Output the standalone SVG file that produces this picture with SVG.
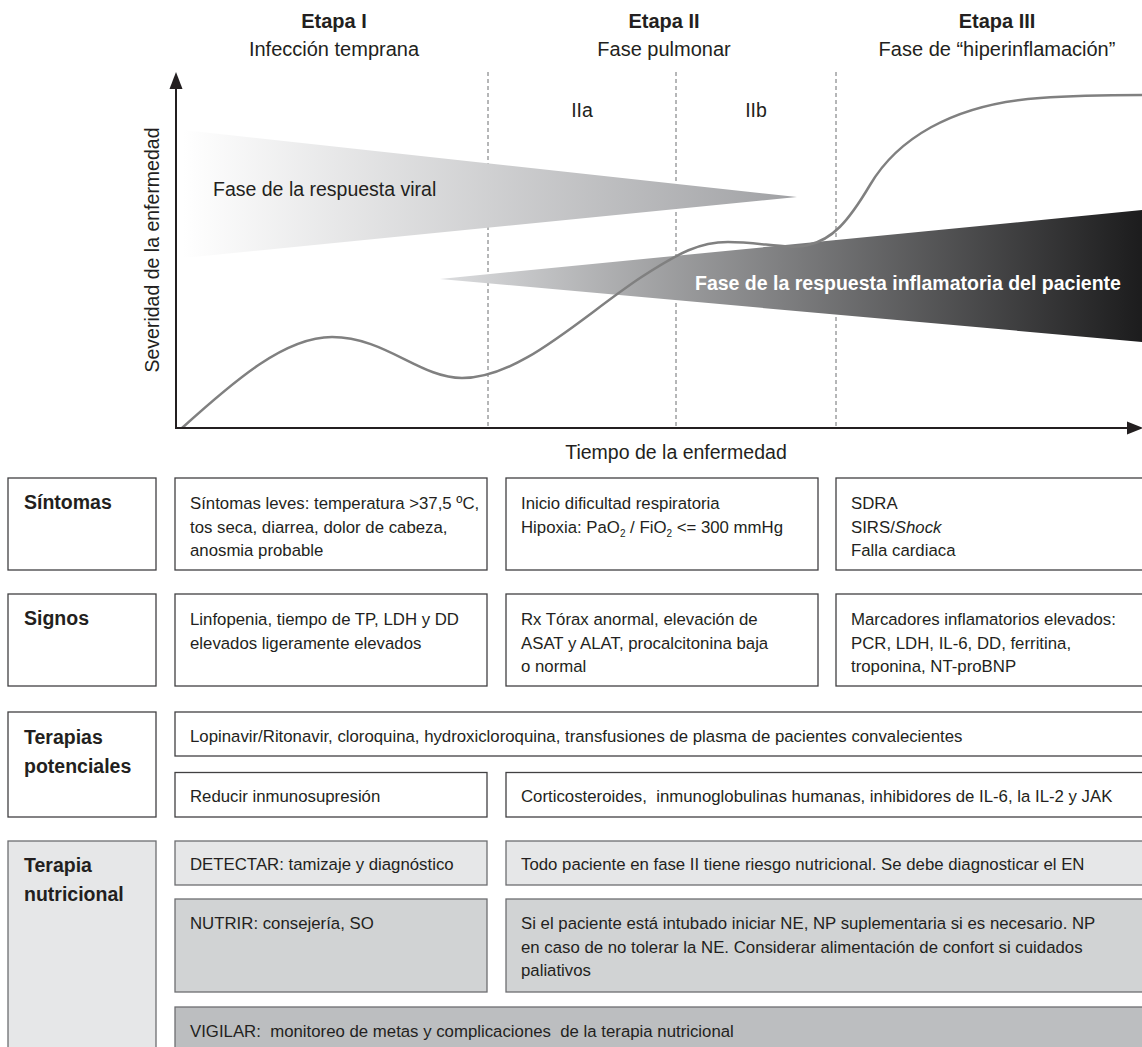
<svg xmlns="http://www.w3.org/2000/svg" width="1142" height="1047" viewBox="0 0 1142 1047">
<style>
text{font-family:"Liberation Sans",Arial,sans-serif;fill:#231f20}
.hb{font-size:20px;font-weight:bold}
.h{font-size:20px}
.ch{font-size:19.5px}
.lb{font-size:19.5px;font-weight:bold}
.c{font-size:16.8px}
.box{fill:#ffffff;stroke:#414042;stroke-width:1.3}
.g1{fill:#e6e7e8;stroke:#6d6e71;stroke-width:1.3}
.g2{fill:#d1d3d4;stroke:#6d6e71;stroke-width:1.3}
.g3{fill:#bcbec0;stroke:#6d6e71;stroke-width:1.3}
.dash{stroke:#6d6e71;stroke-width:1;stroke-dasharray:4 3;fill:none}
.axis{stroke:#231f20;stroke-width:2;fill:none}
</style>
<defs>
<linearGradient id="gv" gradientUnits="userSpaceOnUse" x1="183" y1="0" x2="797" y2="0">
<stop offset="0" stop-color="#ffffff"/>
<stop offset="1" stop-color="#a0a1a4"/>
</linearGradient>
<linearGradient id="gi" gradientUnits="userSpaceOnUse" x1="440" y1="0" x2="1142" y2="0">
<stop offset="0" stop-color="#dcdddf"/>
<stop offset="1" stop-color="#1c1c1d"/>
</linearGradient>
</defs>

<g id="headers">
<text class="hb" x="334" y="28" text-anchor="middle">Etapa I</text>
<text class="h" x="334" y="56" text-anchor="middle">Infección temprana</text>
<text class="hb" x="664" y="28" text-anchor="middle">Etapa II</text>
<text class="h" x="664" y="56" text-anchor="middle">Fase pulmonar</text>
<text class="hb" x="997" y="28" text-anchor="middle">Etapa III</text>
<text class="h" x="997" y="56" text-anchor="middle">Fase de “hiperinflamación”</text>
</g>

<g id="chart">
<g id="stage-lines">
<line class="dash" x1="488" y1="72" x2="488" y2="428"/>
<line class="dash" x1="676" y1="72" x2="676" y2="428"/>
<line class="dash" x1="836" y1="72" x2="836" y2="428"/>
</g>
<text class="ch" x="582" y="117" text-anchor="middle">IIa</text>
<text class="ch" x="756" y="117" text-anchor="middle">IIb</text>
<g id="viral-phase">
<polygon points="183,130 797,197 183,258" fill="url(#gv)"/>
<text class="ch" x="213" y="196">Fase de la respuesta viral</text>
</g>
<g id="inflammatory-phase">
<polygon points="440,279 1142,210 1142,342" fill="url(#gi)"/>
</g>
<path id="severity-curve" d="M182,428 C235,380 285,337 332,337 C385,337 420,378 462,378 C520,378 580,318 640,278 C680,252 700,242 728,242 C760,242 790,250 808,245 C832,240 848,222 870,185 C896,141 950,104 1040,98 C1080,95 1110,95 1142,95" fill="none" stroke="#808080" stroke-width="2.5"/>
<text x="695" y="290" style="font-size:19.5px;font-weight:bold;fill:#ffffff">Fase de la respuesta inflamatoria del paciente</text>
<g id="axes">
<line class="axis" x1="176" y1="428" x2="176" y2="86"/>
<polygon points="176,72 169.5,89 182.5,89" fill="#231f20"/>
<line class="axis" x1="175" y1="428" x2="1130" y2="428"/>
<polygon points="1143,428 1127,421.5 1127,434.5" fill="#231f20"/>
</g>
<text class="ch" transform="translate(159,250) rotate(-90)" text-anchor="middle">Severidad de la enfermedad</text>
<text class="ch" x="676" y="459" text-anchor="middle">Tiempo de la enfermedad</text>
</g>

<g id="row-sintomas">
<g id="sintomas-label"><rect class="box" x="8" y="478" width="148" height="92"/><text class="lb" x="24" y="509">Síntomas</text></g>
<g id="sintomas-1"><rect class="box" x="175" y="478" width="312" height="92"/>
<text class="c" x="190" y="509">Síntomas leves: temperatura &gt;37,5 ºC,</text>
<text class="c" x="190" y="532.5">tos seca, diarrea, dolor de cabeza,</text>
<text class="c" x="190" y="556">anosmia probable</text></g>
<g id="sintomas-2"><rect class="box" x="506" y="478" width="312" height="92"/>
<text class="c" x="521" y="509">Inicio dificultad respiratoria</text>
<text class="c" x="521" y="532.5">Hipoxia: PaO<tspan dy="4" style="font-size:10px">2</tspan><tspan dy="-4"> / FiO</tspan><tspan dy="4" style="font-size:10px">2</tspan><tspan dy="-4"> &lt;= 300 mmHg</tspan></text></g>
<g id="sintomas-3"><rect class="box" x="836" y="478" width="320" height="92"/>
<text class="c" x="851" y="509">SDRA</text>
<text class="c" x="851" y="532.5">SIRS/<tspan style="font-style:italic">Shock</tspan></text>
<text class="c" x="851" y="556">Falla cardiaca</text></g>
</g>

<g id="row-signos">
<g id="signos-label"><rect class="box" x="8" y="594" width="148" height="92"/><text class="lb" x="24" y="625">Signos</text></g>
<g id="signos-1"><rect class="box" x="175" y="594" width="312" height="92"/>
<text class="c" x="190" y="625">Linfopenia, tiempo de TP, LDH y DD</text>
<text class="c" x="190" y="648.5">elevados ligeramente elevados</text></g>
<g id="signos-2"><rect class="box" x="506" y="594" width="312" height="92"/>
<text class="c" x="521" y="625">Rx Tórax anormal, elevación de</text>
<text class="c" x="521" y="648.5">ASAT y ALAT, procalcitonina baja</text>
<text class="c" x="521" y="672">o normal</text></g>
<g id="signos-3"><rect class="box" x="836" y="594" width="320" height="92"/>
<text class="c" x="851" y="625">Marcadores inflamatorios elevados:</text>
<text class="c" x="851" y="648.5">PCR, LDH, IL-6, DD, ferritina,</text>
<text class="c" x="851" y="672">troponina, NT-proBNP</text></g>
</g>

<g id="row-terapias">
<g id="terapias-label"><rect class="box" x="8" y="712" width="148" height="105"/>
<text class="lb" x="24" y="744">Terapias</text>
<text class="lb" x="24" y="772.5">potenciales</text></g>
<g id="terapias-antivirales"><rect class="box" x="175" y="712" width="981" height="44"/>
<text class="c" x="190" y="741.5">Lopinavir/Ritonavir, cloroquina, hydroxicloroquina, transfusiones de plasma de pacientes convalecientes</text></g>
<g id="terapias-1"><rect class="box" x="175" y="772.5" width="312" height="44.5"/>
<text class="c" x="190" y="801.5">Reducir inmunosupresión</text></g>
<g id="terapias-2"><rect class="box" x="506" y="772.5" width="650" height="44.5"/>
<text class="c" x="521" y="801.5" xml:space="preserve">Corticosteroides,  inmunoglobulinas humanas, inhibidores de IL-6, la IL-2 y JAK</text></g>
</g>

<g id="row-nutricional">
<g id="nutricional-label"><rect class="g1" x="8" y="841" width="148" height="220"/>
<text class="lb" x="24" y="872">Terapia</text>
<text class="lb" x="24" y="901">nutricional</text></g>
<g id="detectar-1"><rect class="g1" x="175" y="841" width="312" height="44"/>
<text class="c" x="190" y="870">DETECTAR: tamizaje y diagnóstico</text></g>
<g id="detectar-2"><rect class="g1" x="506" y="841" width="650" height="44"/>
<text class="c" x="521" y="870">Todo paciente en fase II tiene riesgo nutricional. Se debe diagnosticar el EN</text></g>
<g id="nutrir-1"><rect class="g2" x="175" y="899" width="312" height="93"/>
<text class="c" x="190" y="929">NUTRIR: consejería, SO</text></g>
<g id="nutrir-2"><rect class="g2" x="506" y="899" width="650" height="93"/>
<text class="c" x="521" y="929">Si el paciente está intubado iniciar NE, NP suplementaria si es necesario. NP</text>
<text class="c" x="521" y="952.5">en caso de no tolerar la NE. Considerar alimentación de confort si cuidados</text>
<text class="c" x="521" y="976">paliativos</text></g>
<g id="vigilar"><rect class="g3" x="175" y="1007" width="981" height="60"/>
<text class="c" x="190" y="1036.5" xml:space="preserve">VIGILAR:  monitoreo de metas y complicaciones  de la terapia nutricional</text></g>
</g>

<g id="connectors"></g>
</svg>
